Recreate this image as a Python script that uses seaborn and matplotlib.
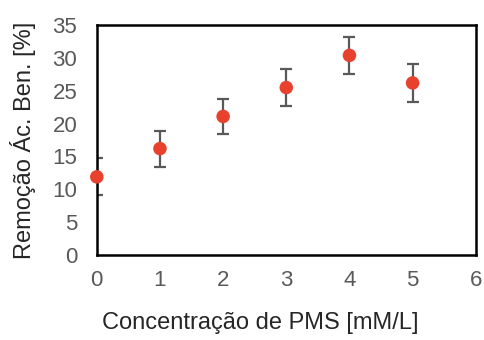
import matplotlib
matplotlib.use('Agg')
import matplotlib.pyplot as plt
import seaborn as sns
import pandas as pd

# data
concentracao = [0, 1, 2, 3, 4, 5]
remocao = [11.9, 16.2, 21.1, 25.5, 30.4, 26.2]
erro = [2.8, 2.75, 2.7, 2.8, 2.85, 2.85]

sns.set_theme(style='white')
plt.rcParams['font.family'] = ['Liberation Sans', 'DejaVu Sans']

df = pd.DataFrame({'PMS': concentracao, 'Remocao': remocao, 'Erro': erro})

fig = plt.figure(figsize=(4.84, 3.4), dpi=100)
ax = fig.add_axes([0.2, 0.25, 0.783, 0.676])

# error bars first, then the points on top
ax.errorbar(df['PMS'], df['Remocao'], yerr=df['Erro'], fmt='none',
            ecolor='#595959', elinewidth=1.6, capsize=4, capthick=1.6, zorder=2)
sns.scatterplot(data=df, x='PMS', y='Remocao', ax=ax, color='#E8412E',
                s=95, edgecolor='none', zorder=3, clip_on=False)

ax.set_xlim(0, 6)
ax.set_ylim(0, 35)
ax.set_xticks(range(0, 7))
ax.set_yticks(range(0, 36, 5))
ax.tick_params(length=0, labelsize=16, labelcolor='#595959')
ax.tick_params(axis='x', pad=11)
ax.tick_params(axis='y', pad=14)

for side in ax.spines.values():
    side.set_color('black')
    side.set_linewidth(1.8)

ax.set_xlabel('Concentração de PMS [mM/L]', fontsize=17, color='#262626')
ax.set_ylabel('Remoção Ác. Ben. [%]', fontsize=17, color='#262626')
ax.xaxis.set_label_coords(0.43, -0.25)
ax.yaxis.set_label_coords(-0.16, 0.5)

fig.savefig('out.png', dpi=100)
